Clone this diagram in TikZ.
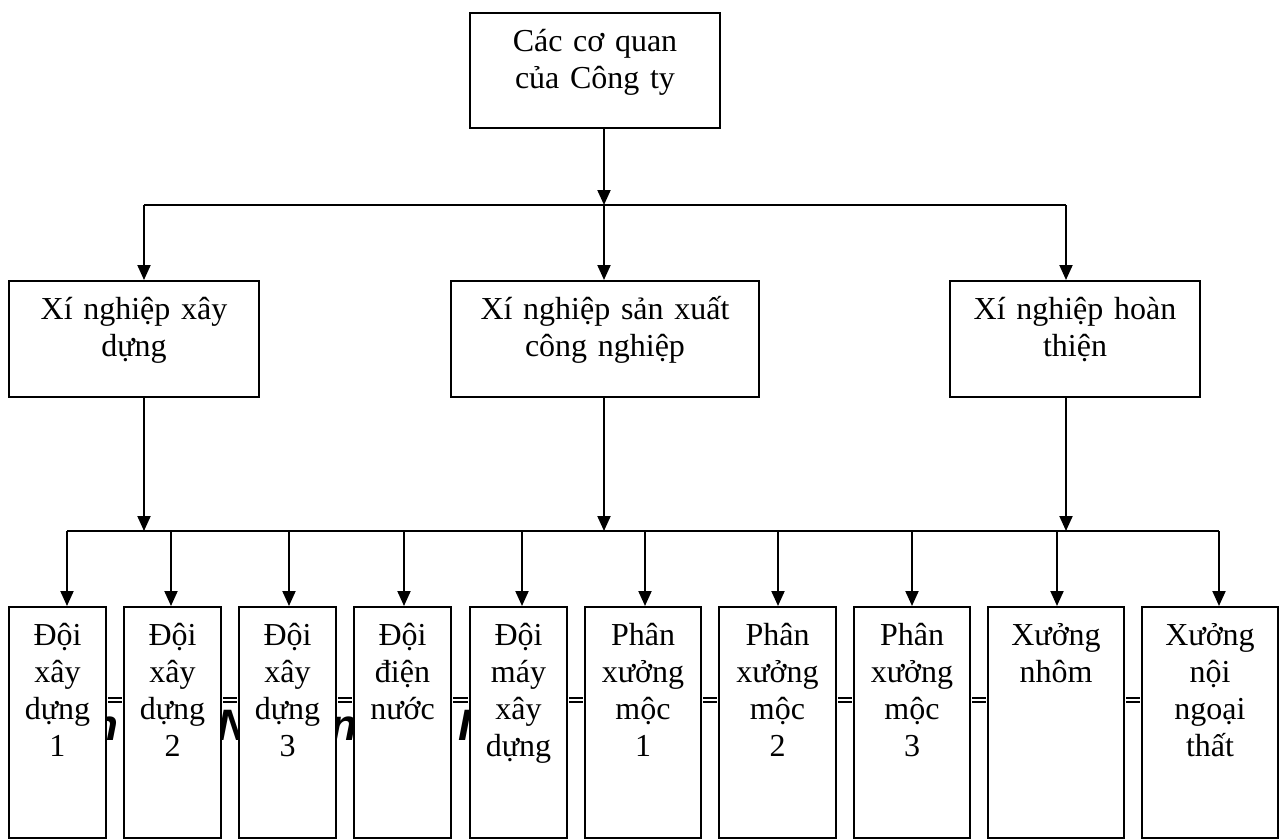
\documentclass[tikz,border=0pt]{standalone}
\usepackage{fontspec}
\setmainfont{Liberation Serif}
\newfontfamily\fragfont{Liberation Sans}
\usetikzlibrary{arrows.meta}
\tikzset{
  box/.style={draw, line width=2pt, fill=white, inner sep=0pt},
  lbl/.style={anchor=north, inner sep=0pt, align=center, font=\fontsize{32}{37}\selectfont},
  arr/.style={line width=2pt, -{Triangle[length=15pt,width=13pt]}},
  ln/.style={line width=2pt},
  dbl/.style={double, double distance=2.8pt, line width=1.5pt, shorten <=1pt, shorten >=1pt},
  frag/.style={font=\fragfont\bfseries\itshape\fontsize{44}{44}\selectfont, anchor=base west, inner sep=0pt}
}
\def\mystrut{\rule{0pt}{28pt}}
\begin{document}
\begin{tikzpicture}[x=1pt,y=-1pt]
\useasboundingbox (0,0) rectangle (1280,839);
% hidden caption fragments (behind boxes)
\node[frag] (f1) at (91,740) {h};
\node[frag] (f2) at (217,740) {N};
\node[frag] (f3) at (330,740) {n};
\node[frag] (f4) at (458,740) {I};
% boxes
\node[box, minimum width=250, minimum height=115] (top) at (595,70.5) {};
\node[box, minimum width=250, minimum height=116] (L) at (134,339) {};
\node[box, minimum width=308, minimum height=116] (M) at (605,339) {};
\node[box, minimum width=250, minimum height=116] (R) at (1075,339) {};
\foreach \n/\c/\w in {1/57.5/97, 2/172.5/97, 3/287.5/97, 4/402.5/97, 5/518.5/97,
                      6/643/116, 7/777.5/117, 8/912/116, 9/1056/136, 10/1210/136}
  \node[box, minimum width=\w, minimum height=231] (b\n) at (\c,722.5) {};
% labels
\node[lbl, text width=246] (tTop) at ([yshift=-11.5pt]top.north) {\mystrut Các cơ quan\\của Công ty};
\node[lbl, text width=246] (tL) at ([yshift=-11.5pt]L.north) {\mystrut Xí nghiệp xây\\dựng};
\node[lbl, text width=304] (tM) at ([yshift=-11.5pt]M.north) {\mystrut Xí nghiệp sản xuất\\công nghiệp};
\node[lbl, text width=246] (tR) at ([yshift=-11.5pt]R.north) {\mystrut Xí nghiệp hoàn\\thiện};
\foreach \n/\t in {1/{Đội\\xây\\dựng\\1}, 2/{Đội\\xây\\dựng\\2}, 3/{Đội\\xây\\dựng\\3},
                   4/{Đội\\điện\\nước}, 5/{Đội\\máy\\xây\\dựng},
                   6/{Phân\\xưởng\\mộc\\1}, 7/{Phân\\xưởng\\mộc\\2}, 8/{Phân\\xưởng\\mộc\\3},
                   9/{Xưởng\\nhôm}, 10/{Xưởng\\nội\\ngoại\\thất}}
  \node[lbl, text width=90] (t\n) at ([yshift=-11.5pt]b\n.north) {\mystrut \t};
% double lines between bottom boxes
\foreach \a/\b in {1/2,2/3,3/4,4/5,5/6,6/7,7/8,8/9,9/10}
  \draw[dbl] ([yshift=22.5pt]b\a.east) -- ([yshift=22.5pt]b\b.west);
% upper bar
\coordinate (u1) at (144,205);
\coordinate (u2) at (604,205);
\coordinate (u3) at (1066,205);
\draw[arr] (top.south -| u2) -- (u2);
\draw[ln] (u1) -- (u3);
\draw[arr] (u1) -- (u1 |- L.north);
\draw[arr] (u2) -- (u2 |- M.north);
\draw[arr] (u3) -- (u3 |- R.north);
% lower bar
\coordinate (l1) at (144,531);
\coordinate (l2) at (604,531);
\coordinate (l3) at (1066,531);
\draw[arr] (L.south -| l1) -- (l1);
\draw[arr] (M.south -| l2) -- (l2);
\draw[arr] (R.south -| l3) -- (l3);
\foreach \n/\x in {1/67, 2/171, 3/289, 4/404, 5/522, 6/645, 7/778, 8/912, 9/1057, 10/1219}
  \coordinate (d\n) at (\x,531);
\draw[ln] (d1) -- (d10);
\foreach \n in {1,...,10}
  \draw[arr] (d\n) -- (d\n |- b\n.north);
\end{tikzpicture}
\end{document}
